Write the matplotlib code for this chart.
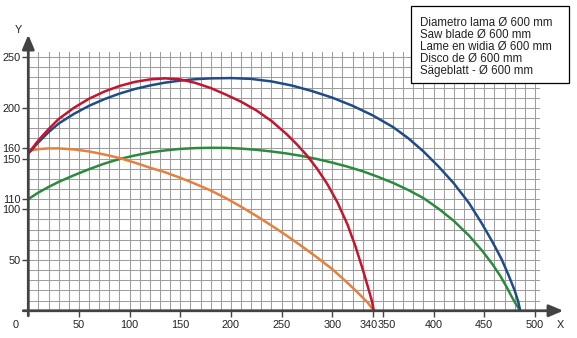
import matplotlib
matplotlib.use("Agg")
import matplotlib.pyplot as plt
from matplotlib.patches import Rectangle
from matplotlib.transforms import ScaledTranslation

plt.rcParams["font.family"] = ["Liberation Sans", "DejaVu Sans"]

# Cutting envelopes for the 600 mm blade (x, y in mm)
red_x = [0, 10, 20, 30, 45, 60, 75, 90, 105, 120, 135, 150, 165, 180, 195, 210, 225, 240,
         255, 265, 275, 285, 295, 305, 315, 323, 330, 335, 339, 341]
red_y = [155, 168, 179, 189, 200, 209, 216, 221.5, 225.5, 228, 229, 228, 224.5, 219.5, 213,
         206, 197.5, 187, 174, 164, 153, 140, 125, 107, 85, 63, 41, 24, 10, 0]

blue_x = [0, 10, 20, 30, 45, 60, 75, 90, 105, 120, 135, 150, 165, 180, 200, 220, 240, 260,
          280, 300, 320, 340, 360, 375, 390, 405, 420, 435, 447, 458, 467, 474, 480, 483.5, 485.5]
blue_y = [155, 166, 176, 184.5, 194, 202, 208.5, 214, 218.5, 222, 224.8, 226.8, 228.2, 229,
          229.3, 228.5, 226, 222, 216.5, 210, 202, 192.5, 181, 170, 157, 142, 125.5, 106, 87,
          68, 51, 35, 20, 9, 0]

green_x = [0, 10, 20, 30, 45, 60, 75, 90, 105, 120, 135, 150, 165, 180, 195, 210, 225, 240,
           255, 270, 285, 300, 315, 330, 345, 360, 375, 390, 405, 420, 435, 448, 458, 466,
           472, 477, 481, 485.5]
green_y = [110, 116.5, 122, 127, 133.5, 139.5, 145, 149.5, 153, 156, 158, 159.5, 160.3, 160.6,
           160.5, 159.8, 158.6, 157, 155, 152.5, 149.5, 146, 142, 137.5, 132, 126, 119, 111,
           100.5, 88.5, 74, 59, 46, 34, 23.5, 14, 7, 0]

orange_x = [0, 10, 20, 30, 45, 60, 75, 90, 105, 120, 135, 150, 165, 180, 195, 210, 225, 240,
            255, 270, 285, 300, 315, 325, 335, 341]
orange_y = [157.5, 159.3, 160, 160, 159, 157, 154, 150.5, 146, 141, 136.5, 131, 125, 118.5,
            111, 102.5, 93.5, 84, 74, 63.5, 52.5, 41, 27.5, 18, 8, 0]

x_ticks = [50, 100, 150, 200, 250, 300, 340, 350, 400, 450, 500]
y_ticks = [50, 100, 110, 150, 160, 200, 250]

legend_lines = [
    "Diametro lama Ø 600 mm",
    "Saw blade Ø 600 mm",
    "Lame en widia Ø 600 mm",
    "Disco de Ø 600 mm",
    "Sägeblatt - Ø 600 mm",
]

W, H = 577, 338
AXIS = "#434343"
TEXT = "#222222"

fig = plt.figure(figsize=(W / 100, H / 100), dpi=100)
ax = fig.add_axes([28.3 / W, (H - 310.75) / H, (540 - 28.3) / W, (310.75 - 52) / H])
ax.set_xlim(0, 505)
ax.set_ylim(0, 255)
for s in ax.spines.values():
    s.set_visible(False)

# 10 mm grid paper
ax.set_xticks(range(0, 510, 10), minor=True)
ax.set_yticks(range(0, 260, 10), minor=True)
ax.grid(which="both", color="#9e9e9e", lw=0.75)
ax.set_axisbelow(True)

ax.set_xticks(x_ticks)
ax.set_xticklabels([str(v) for v in x_ticks])
ax.set_yticks(y_ticks)
ax.set_yticklabels([str(v) for v in y_ticks])
ax.tick_params(which="major", direction="out", length=4.5, width=1, color=AXIS,
               labelsize=7.8, labelcolor=TEXT, pad=2.5)
ax.tick_params(axis="y", which="major", pad=1)
ax.tick_params(which="minor", length=0)

# pull the crowded 340 / 350 labels apart
for tick in ax.xaxis.get_major_ticks():
    lab = tick.label1.get_text()
    if lab == "340":
        tick.label1.set_transform(tick.label1.get_transform()
                                  + ScaledTranslation(-0.04, 0, fig.dpi_scale_trans))
    elif lab == "350":
        tick.label1.set_transform(tick.label1.get_transform()
                                  + ScaledTranslation(0.036, 0, fig.dpi_scale_trans))

style = dict(lw=1.8, solid_capstyle="round", solid_joinstyle="round")
ax.plot(green_x, green_y, color="#2b8a3e", zorder=3, **style)
ax.plot(orange_x, orange_y, color="#e4813f", zorder=3, **style)
ax.plot(blue_x, blue_y, color="#1f4c86", zorder=4, **style)
ax.plot(red_x, red_y, color="#c4152f", zorder=5, **style)

# axes with arrow heads
arrow = dict(arrowstyle="-|>,head_length=0.85,head_width=0.36", color=AXIS, lw=2,
             shrinkA=0, shrinkB=0)
ax.annotate("", xy=(528, 0), xytext=(-5, 0), arrowprops=arrow, annotation_clip=False, zorder=6)
ax.annotate("", xy=(0, 272), xytext=(0, -5), arrowprops=arrow, annotation_clip=False, zorder=6)

ax.annotate("0", xy=(0, 0), xytext=(-13, -14), textcoords="offset pixels",
            ha="center", va="center", fontsize=7.8, color=TEXT)
fig.text(18.3 / W, 1 - 30 / H, "Y", ha="center", va="center", fontsize=7.8, color=TEXT)
fig.text(560 / W, 1 - 325 / H, "X", ha="center", va="center", fontsize=7.8, color=TEXT)

# legend box
fig.add_artist(Rectangle((411 / W, 1 - 83 / H), (569 - 411) / W, (83 - 6) / H,
                         transform=fig.transFigure, fc="white", ec="black", lw=0.9, zorder=8))
for i, line in enumerate(legend_lines):
    fig.text(420.5 / W, 1 - (22.7 + 12.1 * i) / H, line, ha="left", va="center",
             fontsize=8.3, color=TEXT, zorder=9)

fig.savefig("out.png", dpi=100)
